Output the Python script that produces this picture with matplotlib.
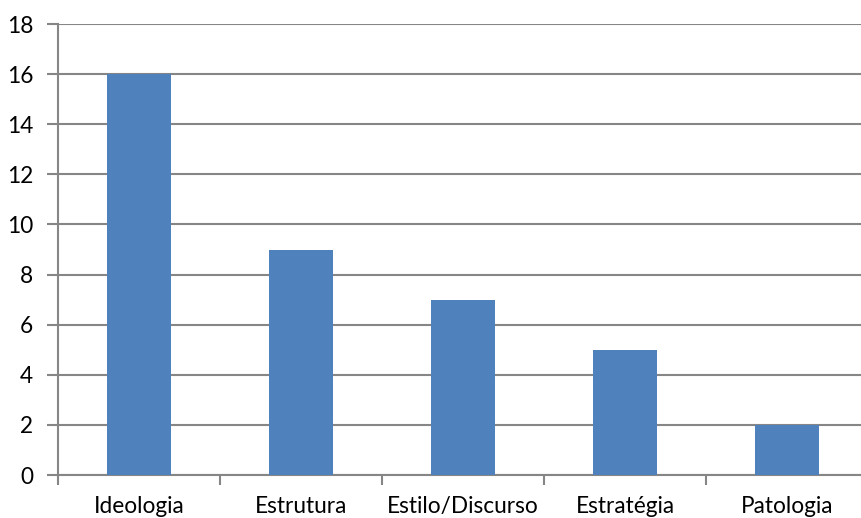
import matplotlib
matplotlib.use("Agg")
import matplotlib.pyplot as plt
import numpy as np

# data
categories = ["Ideologia", "Estrutura", "Estilo/Discurso", "Estratégia", "Patologia"]
counts = [16, 9, 7, 5, 2]
y_ticks = [0, 2, 4, 6, 8, 10, 12, 14, 16, 18]

plt.rcParams["font.family"] = ["Lato", "DejaVu Sans"]

fig = plt.figure(figsize=(8.62, 5.18), dpi=100)
# axes run slightly past the right edge, as in the original crop
ax = fig.add_axes([58 / 862, 1 - 475 / 518, 810 / 862, 451 / 518])

x = np.arange(len(categories))
ax.bar(x, counts, width=0.395, color="#4F81BD", zorder=3)

ax.set_xlim(-0.5, len(categories) - 0.5)
ax.set_ylim(0, 18)
ax.set_yticks(y_ticks)
ax.yaxis.grid(True, color="#868686", linewidth=1.5, zorder=0)

# category boundary tick marks, labels in the middle
ax.set_xticks(np.arange(len(categories) + 1) - 0.5)
ax.set_xticklabels([])
ax.set_xticks(x, minor=True)
ax.set_xticklabels(categories, minor=True)
ax.tick_params(axis="x", which="major", length=7, width=1.5, color="#868686")
ax.tick_params(axis="x", which="minor", length=0, pad=15, labelsize=16.3)
ax.tick_params(axis="y", length=8, width=1.5, color="#868686", pad=10, labelsize=16.3)

for side in ["top", "right"]:
    ax.spines[side].set_visible(False)
for side in ["left", "bottom"]:
    ax.spines[side].set_color("#868686")
    ax.spines[side].set_linewidth(1.5)

fig.savefig("out.png", dpi=100)
plt.close(fig)
